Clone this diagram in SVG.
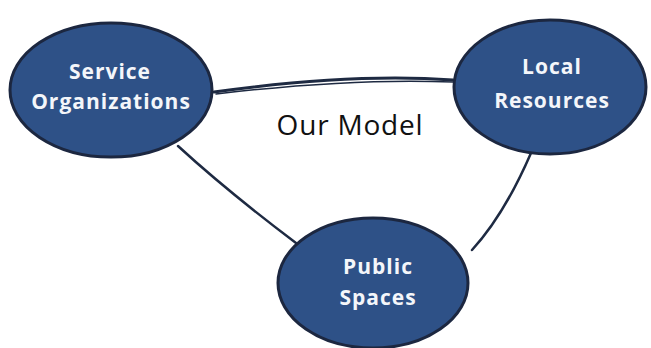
<svg xmlns="http://www.w3.org/2000/svg" width="651" height="348" viewBox="0 0 651 348">
<style>
.node ellipse{fill:#2e5187;stroke:#1c2740;stroke-width:3}
.lbl{font-family:"Open Sans","Liberation Sans",sans-serif;font-weight:700;font-size:21px;letter-spacing:1px;fill:#f4f6fa;text-anchor:middle}
.conn{stroke:#1e2a42;fill:none;stroke-linecap:round}
.title{font-family:"Open Sans","Liberation Sans",sans-serif;font-size:28px;letter-spacing:0.8px;fill:#111;text-anchor:middle}
</style>
<rect width="651" height="348" fill="#fff"/>
<g id="connectors">
<path class="conn" d="M214,92 C300,80 380,75 453,80" stroke-width="3"/>
<path class="conn" d="M216,94 C300,84 380,79 453,82" stroke-width="1.5"/>
<path class="conn" d="M178,146 C215,180 255,212 296,243" stroke-width="2.5"/>
<path class="conn" d="M531,153 C515,190 495,225 472,250" stroke-width="2.5"/>
</g>
<g id="service-organizations" class="node">
<ellipse cx="111" cy="90" rx="101" ry="67"/>
<text class="lbl" x="110" y="79">Service</text>
<text class="lbl" x="111" y="109">Organizations</text>
</g>
<g id="local-resources" class="node">
<ellipse cx="550" cy="87" rx="96" ry="67"/>
<text class="lbl" x="552" y="74">Local</text>
<text class="lbl" x="552" y="108">Resources</text>
</g>
<g id="public-spaces" class="node">
<ellipse cx="373" cy="283" rx="95" ry="65"/>
<text class="lbl" x="378" y="274">Public</text>
<text class="lbl" x="378" y="305">Spaces</text>
</g>
<text class="title" x="350" y="135">Our Model</text>
</svg>
